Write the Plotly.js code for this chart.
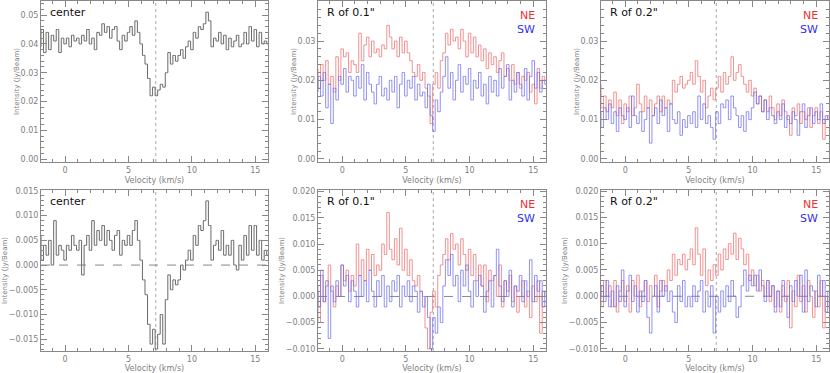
<!DOCTYPE html>
<html>
<head>
<meta charset="utf-8">
<script src="https://cdn.plot.ly/plotly-3.0.1.min.js"></script>
<style>
  body { margin: 0; background: #fff; }
  #spectra { width: 830px; height: 373px; }
</style>
</head>
<body>
<div id="spectra"></div>
<script>
// channel velocities (km/s)
let velocity = [
  -2.0, -1.8, -1.6, -1.4, -1.2, -1.0, -0.8, -0.6, -0.4, -0.2,
  0.0, 0.2, 0.4, 0.6, 0.8, 1.0, 1.2, 1.4, 1.6, 1.8,
  2.0, 2.2, 2.4, 2.6, 2.8, 3.0, 3.2, 3.4, 3.6, 3.8,
  4.0, 4.2, 4.4, 4.6, 4.8, 5.0, 5.2, 5.4, 5.6, 5.8,
  6.0, 6.2, 6.4, 6.6, 6.8, 7.0, 7.2, 7.4, 7.6, 7.8,
  8.0, 8.2, 8.4, 8.6, 8.8, 9.0, 9.2, 9.4, 9.6, 9.8,
  10.0, 10.2, 10.4, 10.6, 10.8, 11.0, 11.2, 11.4, 11.6, 11.8,
  12.0, 12.2, 12.4, 12.6, 12.8, 13.0, 13.2, 13.4, 13.6, 13.8,
  14.0, 14.2, 14.4, 14.6, 14.8, 15.0, 15.2, 15.4, 15.6, 15.8,
  16.0
];
let systemicVelocity = 7.15;

// top row: with continuum
let centerCont = [
  0.039, 0.045, 0.037, 0.044, 0.038, 0.043, 0.041, 0.045, 0.037, 0.042,
  0.040, 0.042, 0.039, 0.043, 0.041, 0.042, 0.040, 0.043, 0.041, 0.045,
  0.040, 0.042, 0.038, 0.044, 0.043, 0.047, 0.044, 0.046, 0.042, 0.045,
  0.046, 0.041, 0.038, 0.043, 0.041, 0.044, 0.046, 0.043, 0.048, 0.044,
  0.040, 0.036, 0.033, 0.028, 0.022, 0.025, 0.022, 0.024, 0.026, 0.025,
  0.030, 0.037, 0.033, 0.036, 0.034, 0.036, 0.038, 0.035, 0.039, 0.041,
  0.038, 0.044, 0.042, 0.046, 0.045, 0.047, 0.051, 0.048, 0.039, 0.042,
  0.041, 0.044, 0.040, 0.043, 0.038, 0.042, 0.039, 0.041, 0.043, 0.039,
  0.040, 0.044, 0.040, 0.046, 0.041, 0.045, 0.039, 0.044, 0.040, 0.041,
  0.040
];
let ne01Cont = [
  0.023, 0.018, 0.024, 0.020, 0.025, 0.019, 0.021, 0.017, 0.026, 0.020,
  0.028, 0.026, 0.027, 0.022, 0.025, 0.024, 0.022, 0.032, 0.025, 0.029,
  0.031, 0.026, 0.030, 0.027, 0.028, 0.026, 0.029, 0.028, 0.034, 0.031,
  0.028, 0.030, 0.026, 0.031, 0.027, 0.030, 0.027, 0.025, 0.022, 0.021,
  0.024, 0.020, 0.022, 0.018, 0.016, 0.009, 0.019, 0.022, 0.018, 0.025,
  0.027, 0.032, 0.029, 0.033, 0.030, 0.031, 0.028, 0.033, 0.030, 0.026,
  0.032, 0.027, 0.031, 0.026, 0.029, 0.025, 0.028, 0.023, 0.027, 0.024,
  0.026, 0.022, 0.025, 0.027, 0.021, 0.023, 0.020, 0.024, 0.019, 0.022,
  0.018, 0.021, 0.020, 0.022, 0.017, 0.019, 0.014, 0.023, 0.018, 0.021,
  0.020
];
let sw01Cont = [
  0.017, 0.021, 0.016, 0.022, 0.013, 0.019, 0.009, 0.018, 0.015, 0.021,
  0.019, 0.023, 0.017, 0.021, 0.020, 0.016, 0.021, 0.018, 0.024, 0.015,
  0.022, 0.019, 0.017, 0.014, 0.019, 0.021, 0.016, 0.018, 0.015, 0.020,
  0.017, 0.021, 0.013, 0.019, 0.022, 0.016, 0.020, 0.018, 0.021, 0.015,
  0.019, 0.016, 0.017, 0.013, 0.019, 0.011, 0.007, 0.015, 0.012, 0.017,
  0.021, 0.026, 0.018, 0.022, 0.015, 0.020, 0.024, 0.017, 0.021, 0.019,
  0.023, 0.015, 0.020, 0.018, 0.022, 0.016, 0.019, 0.014, 0.021, 0.017,
  0.020, 0.016, 0.023, 0.018, 0.021, 0.024, 0.015, 0.020, 0.017, 0.022,
  0.019, 0.016, 0.023, 0.015, 0.021, 0.025, 0.018, 0.022, 0.017, 0.020,
  0.019
];
let ne02Cont = [
  0.019, 0.013, 0.016, 0.012, 0.015, 0.013, 0.017, 0.011, 0.015, 0.009,
  0.014, 0.012, 0.016, 0.011, 0.013, 0.019, 0.014, 0.012, 0.016, 0.013,
  0.015, 0.011, 0.014, 0.016, 0.012, 0.016, 0.013, 0.015, 0.014, 0.020,
  0.017, 0.019, 0.021, 0.018, 0.019, 0.020, 0.022, 0.019, 0.025, 0.021,
  0.017, 0.020, 0.013, 0.016, 0.018, 0.015, 0.018, 0.021, 0.017, 0.022,
  0.019, 0.021, 0.026, 0.020, 0.022, 0.024, 0.021, 0.019, 0.017, 0.020,
  0.016, 0.018, 0.014, 0.016, 0.012, 0.015, 0.012, 0.016, 0.013, 0.010,
  0.014, 0.011, 0.015, 0.012, 0.010, 0.006, 0.013, 0.011, 0.014, 0.009,
  0.012, 0.010, 0.013, 0.008, 0.011, 0.013, 0.009, 0.012, 0.005, 0.010,
  0.011
];
let sw02Cont = [
  0.012, 0.008, 0.013, 0.010, 0.014, 0.009, 0.012, 0.007, 0.013, 0.011,
  0.010, 0.013, 0.008, 0.016, 0.011, 0.009, 0.012, 0.007, 0.010, 0.013,
  0.004, 0.011, 0.013, 0.009, 0.015, 0.011, 0.013, 0.007, 0.014, 0.010,
  0.009, 0.012, 0.006, 0.010, 0.008, 0.011, 0.009, 0.012, 0.008, 0.016,
  0.010, 0.014, 0.009, 0.011, 0.008, 0.005, 0.012, 0.009, 0.014, 0.013,
  0.015, 0.010, 0.016, 0.013, 0.011, 0.008, 0.011, 0.007, 0.012, 0.010,
  0.013, 0.017, 0.014, 0.016, 0.012, 0.015, 0.010, 0.013, 0.011, 0.009,
  0.012, 0.010, 0.014, 0.008, 0.011, 0.009, 0.012, 0.010, 0.006, 0.012,
  0.014, 0.008, 0.011, 0.013, 0.009, 0.012, 0.010, 0.014, 0.009, 0.011,
  0.010
];

// bottom row: continuum subtracted
let centerLine = [
  0.006, 0.001, 0.004, 0.002, 0.005, 0.000, 0.009, 0.002, 0.004, 0.003,
  0.001, 0.004, 0.003, 0.006, 0.004, 0.003, 0.005, -0.002, 0.004, 0.006,
  0.003, 0.009, 0.004, 0.007, 0.005, 0.008, 0.004, 0.007, 0.005, 0.003,
  0.006, 0.007, 0.002, 0.005, 0.004, 0.006, 0.004, 0.007, 0.009, 0.005,
  0.001, -0.003, -0.006, -0.012, -0.016, -0.013, -0.017, -0.014, -0.010, -0.016,
  -0.007, -0.002, -0.005, -0.003, -0.004, -0.003, 0.000, -0.001, 0.001, 0.003,
  0.001, 0.006, 0.004, 0.008, 0.007, 0.009, 0.013, 0.008, 0.001, 0.004,
  0.005, 0.003, 0.007, 0.002, 0.004, 0.002, 0.005, 0.000, -0.001, 0.004,
  0.001, 0.006, 0.002, 0.008, 0.003, 0.008, 0.002, 0.005, 0.001, 0.003,
  0.002
];
let ne01Line = [
  0.002, -0.005, 0.004, -0.001, 0.002, 0.006, 0.001, -0.002, 0.002, 0.000,
  0.006, 0.003, 0.005, 0.001, 0.004, 0.002, 0.010, 0.004, 0.007, 0.003,
  0.009, 0.005, 0.008, 0.004, 0.006, 0.005, 0.010, 0.008, 0.016, 0.009,
  0.007, 0.011, 0.006, 0.013, 0.005, 0.009, 0.004, 0.007, 0.003, 0.002,
  0.004, 0.001, 0.000, -0.006, -0.010, -0.003, 0.001, -0.002, 0.004, 0.006,
  0.008, 0.011, 0.007, 0.012, 0.009, 0.010, 0.006, 0.011, 0.008, 0.005,
  0.009, 0.004, 0.008, 0.003, 0.006, 0.002, 0.006, -0.001, 0.005, 0.003,
  0.004, 0.000, 0.006, -0.002, 0.003, 0.001, 0.004, -0.001, 0.002, -0.003,
  0.000, 0.003, -0.002, 0.001, -0.004, 0.002, -0.001, 0.003, -0.007, 0.001,
  0.000
];
let sw01Line = [
  0.001, -0.002, 0.005, -0.001, 0.003, -0.008, 0.002, -0.001, 0.003, 0.000,
  0.006, 0.002, 0.004, -0.001, 0.003, 0.001, -0.002, 0.004, 0.000, 0.003,
  -0.001, 0.005, 0.001, -0.002, 0.003, 0.000, 0.004, -0.002, 0.002, -0.001,
  0.003, 0.001, 0.004, -0.002, 0.002, 0.000, 0.003, -0.001, 0.002, 0.001,
  -0.003, 0.001, -0.002, 0.000, -0.004, -0.010, -0.004, -0.007, -0.002, -0.005,
  0.002, 0.007, 0.004, 0.008, 0.002, 0.004, -0.001, 0.005, 0.002, 0.006,
  0.001, -0.002, 0.003, 0.000, 0.004, 0.002, -0.003, 0.001, 0.003, -0.002,
  0.004, 0.009, 0.002, -0.001, 0.003, 0.000, 0.005, -0.002, 0.002, 0.001,
  0.004, -0.001, 0.003, 0.000, 0.007, -0.001, 0.004, 0.001, 0.003, -0.002,
  0.001
];
let ne02Line = [
  0.002, -0.002, 0.003, 0.000, 0.002, -0.002, 0.003, -0.003, 0.001, 0.003,
  -0.001, 0.002, -0.003, 0.003, 0.000, 0.004, -0.002, 0.001, 0.003, -0.001,
  0.002, 0.000, 0.004, -0.002, 0.001, 0.003, 0.001, 0.005, 0.003, 0.008,
  0.004, 0.007, 0.006, 0.008, 0.005, 0.007, 0.009, 0.006, 0.013, 0.008,
  0.004, 0.009, 0.002, 0.005, 0.003, 0.006, 0.004, 0.008, 0.005, 0.009,
  0.007, 0.010, 0.008, 0.012, 0.007, 0.011, 0.009, 0.006, 0.008, 0.003,
  0.005, 0.002, 0.004, 0.001, 0.003, 0.000, 0.003, -0.001, 0.002, -0.002,
  0.001, -0.003, 0.002, -0.001, 0.003, -0.006, 0.001, -0.002, 0.004, -0.001,
  0.002, -0.003, 0.003, 0.000, -0.004, 0.001, -0.002, 0.003, -0.006, 0.000,
  -0.002
];
let sw02Line = [
  0.000, 0.002, -0.001, 0.003, -0.002, 0.001, -0.002, 0.002, -0.001, 0.005,
  -0.002, 0.001, 0.004, -0.001, 0.002, -0.003, 0.001, -0.001, 0.003, -0.004,
  -0.007, 0.000, 0.002, -0.003, 0.003, 0.000, 0.002, -0.001, 0.001, -0.003,
  -0.005, 0.002, -0.001, 0.003, -0.002, 0.000, -0.002, 0.002, -0.001, 0.001,
  0.003, -0.003, 0.001, -0.002, 0.002, -0.007, 0.000, -0.003, 0.001, -0.002,
  0.002, -0.001, 0.003, 0.000, -0.004, -0.002, 0.002, 0.005, 0.001, 0.004,
  0.002, 0.004, 0.001, 0.005, 0.002, -0.001, 0.003, 0.000, 0.002, -0.003,
  0.001, -0.002, 0.003, 0.000, -0.004, 0.002, -0.001, 0.003, 0.000, 0.004,
  -0.003, 0.005, -0.001, 0.002, 0.001, -0.002, 0.004, 0.000, 0.003, -0.003,
  0.001
];

let grey = '#6a6a6a';
let neColor = 'rgba(238,110,110,0.75)';
let swColor = 'rgba(110,110,238,0.75)';

function step(y, color, n) {
  return {
    x: velocity, y: y, type: 'scatter', mode: 'lines',
    line: { shape: 'hvh', color: color, width: 1 },
    xaxis: 'x' + (n === 1 ? '' : n), yaxis: 'y' + (n === 1 ? '' : n),
    hoverinfo: 'skip', showlegend: false
  };
}

let traces = [
  step(centerCont, grey, 1),
  step(ne01Cont, neColor, 2), step(sw01Cont, swColor, 2),
  step(ne02Cont, neColor, 3), step(sw02Cont, swColor, 3),
  step(centerLine, grey, 4),
  step(ne01Line, neColor, 5), step(sw01Line, swColor, 5),
  step(ne02Line, neColor, 6), step(sw02Line, swColor, 6)
];

let W = 830, H = 373;
let colX = [[41, 268], [318, 546], [601, 829]];
let rowY = [[1, 162], [190, 351]];
let yRanges = [[-0.001, 0.0549], [-0.0008, 0.0402], [-0.0008, 0.0402],
               [-0.0174, 0.0152], [-0.0104, 0.0203], [-0.0104, 0.0202]];
let yTicks = [0.01, 0.01, 0.01, 0.005, 0.005, 0.005];
let yFormat = ['.2f', '.2f', '.2f', '.3f', '.3f', '.3f'];
let yMinor = [0.002, 0.002, 0.002, 0.001, 0.001, 0.001];

let tickFont = { family: 'DejaVu Sans', size: 8, color: '#808080' };
let layout = {
  width: W, height: H,
  margin: { l: 0, r: 0, t: 0, b: 0 },
  paper_bgcolor: '#fff', plot_bgcolor: '#fff',
  showlegend: false,
  shapes: [], annotations: []
};

for (let i = 0; i < 6; i++) {
  let n = i + 1;
  let suffix = n === 1 ? '' : n;
  let col = colX[i % 3], row = rowY[Math.floor(i / 3)];
  layout['xaxis' + suffix] = {
    domain: [col[0] / W, col[1] / W], range: [-1.9, 16.0],
    anchor: 'y' + suffix, dtick: 5, tick0: 0,
    ticks: 'inside', ticklen: 6, tickcolor: '#888', mirror: 'ticks',
    showline: true, linecolor: '#888', linewidth: 1,
    showgrid: false, zeroline: false, tickfont: tickFont,
    minor: { dtick: 1, ticks: 'inside', ticklen: 3, tickcolor: '#888' },
    title: { text: 'Velocity (km/s)', font: tickFont, standoff: 3 }
  };
  layout['yaxis' + suffix] = {
    domain: [(H - row[1]) / H, (H - row[0]) / H], range: yRanges[i],
    anchor: 'x' + suffix, dtick: yTicks[i], tick0: 0, tickformat: yFormat[i],
    ticks: 'inside', ticklen: 6, tickcolor: '#888', mirror: 'ticks',
    showline: true, linecolor: '#888', linewidth: 1,
    showgrid: false, zeroline: false, tickfont: tickFont,
    minor: { dtick: yMinor[i], ticks: 'inside', ticklen: 3, tickcolor: '#888' },
    title: { text: 'Intensity (Jy/Beam)', font: { family: 'DejaVu Sans', size: 7, color: '#808080' }, standoff: 0 }
  };

  // systemic velocity marker
  layout.shapes.push({
    type: 'line', xref: 'x' + suffix, yref: 'y' + suffix + ' domain',
    x0: systemicVelocity, x1: systemicVelocity, y0: 0, y1: 1,
    line: { color: '#aaa', width: 1, dash: 'dot' }, layer: 'below'
  });
  if (i >= 3) {
    layout.shapes.push({
      type: 'line', xref: 'x' + suffix + ' domain', yref: 'y' + suffix,
      x0: 0, x1: 1, y0: 0, y1: 0,
      line: { color: '#888', width: 1, dash: 'dash' }, layer: 'below'
    });
  }

  let label = ['center', 'R of 0.1"', 'R of 0.2"'][i % 3];
  layout.annotations.push({
    text: label, xref: 'x' + suffix + ' domain', yref: 'y' + suffix + ' domain',
    x: 0.03, y: 0.98, xanchor: 'left', yanchor: 'top', showarrow: false,
    font: { family: 'DejaVu Sans', size: 11, color: '#111' }
  });
  if (i % 3 !== 0) {
    layout.annotations.push({
      text: 'NE', xref: 'x' + suffix + ' domain', yref: 'y' + suffix + ' domain',
      x: 0.96, y: 0.96, xanchor: 'right', yanchor: 'top', showarrow: false,
      font: { family: 'DejaVu Sans', size: 11, color: '#f03030' }
    });
    layout.annotations.push({
      text: 'SW', xref: 'x' + suffix + ' domain', yref: 'y' + suffix + ' domain',
      x: 0.96, y: 0.875, xanchor: 'right', yanchor: 'top', showarrow: false,
      font: { family: 'DejaVu Sans', size: 11, color: '#3030f0' }
    });
  }
}

Plotly.newPlot('spectra', traces, layout, { staticPlot: true, displayModeBar: false });
</script>
</body>
</html>
